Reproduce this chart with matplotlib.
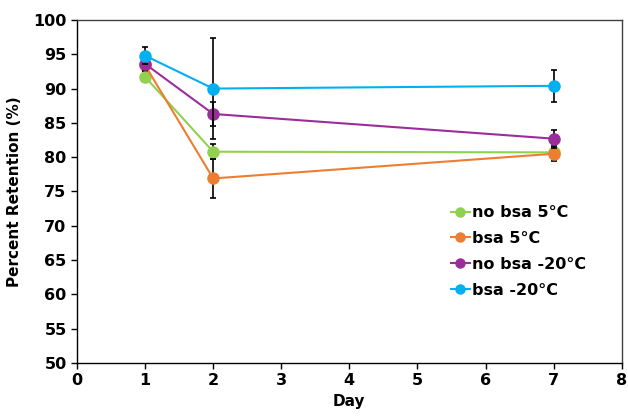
import numpy as np
import matplotlib
matplotlib.use("Agg")
import matplotlib.pyplot as plt
from matplotlib.lines import Line2D

plt.rcParams['font.family'] = ['DejaVu Sans']
plt.rcParams['font.weight'] = 'bold'

days = [1, 2, 7]
labels = ['no bsa 5°C', 'bsa 5°C', 'no bsa -20°C', 'bsa -20°C']
no_bsa_5 = [91.7, 80.8, 80.7]
bsa_5 = [93.4, 76.9, 80.5]
no_bsa_m20 = [93.6, 86.3, 82.7]
bsa_m20 = [94.8, 90.0, 90.4]
err_no_bsa_5 = [0.8, 1.1, 0.8]
err_bsa_5 = [0.8, 2.9, 1.1]
err_no_bsa_m20 = [0.9, 1.8, 1.3]
err_bsa_m20 = [1.2, 7.3, 2.35]

series = [no_bsa_5, bsa_5, no_bsa_m20, bsa_m20]
errors = [err_no_bsa_5, err_bsa_5, err_no_bsa_m20, err_bsa_m20]
colors = ['#92D050', '#ED7D31', '#9B2D9B', '#00B0F0']

fig = plt.figure(figsize=(6.28, 4.16), dpi=100)
ax = fig.add_axes([0.1226, 0.1274, 0.8674, 0.8246])

handles = []
for i in range(4):
    ax.errorbar(days, series[i], yerr=errors[i], fmt='none', ecolor='black',
                elinewidth=1.2, capsize=2.5, capthick=1.2, zorder=2 + 2 * i)
    ax.plot(days, series[i], color=colors[i], linewidth=1.5, marker='o',
            markersize=8, zorder=3 + 2 * i)
    handles.append(Line2D([], [], color=colors[i], linewidth=1.5, marker='o',
                          markersize=6.5, label=labels[i]))

ax.set_xlim(0, 8)
ax.set_ylim(50, 100)
ax.set_xticks(np.arange(0, 9, 1))
ax.set_yticks(np.arange(50, 101, 5))
ax.tick_params(labelsize=11.5, direction='out', length=4, width=1)
for sp in ax.spines.values():
    sp.set_linewidth(1)
    sp.set_color('#404040')
ax.spines['left'].set_color('black')
ax.spines['bottom'].set_color('black')

ax.set_xlabel('Day', fontsize=11, fontweight='bold', labelpad=4)
ax.set_ylabel('Percent Retention (%)', fontsize=11, fontweight='bold', labelpad=8)

ax.legend(handles=handles, loc='center left', bbox_to_anchor=(0.66, 0.325),
          frameon=False, fontsize=11.5, handlelength=1.2, handletextpad=0.1,
          labelspacing=0.68)

plt.savefig("out.png", dpi=100)
